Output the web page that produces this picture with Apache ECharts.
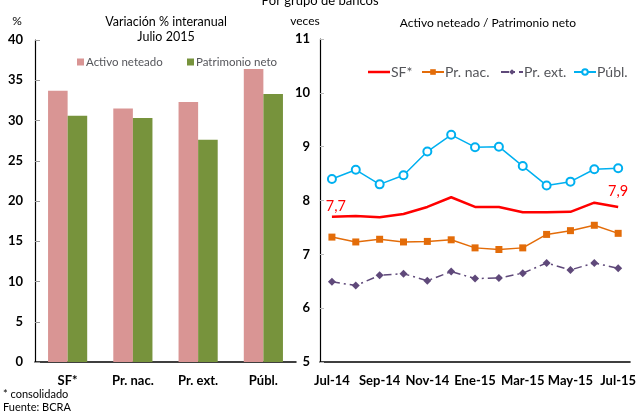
<!DOCTYPE html>
<html><head><meta charset="utf-8">
<script src="https://cdn.jsdelivr.net/npm/echarts@6/dist/echarts.min.js"></script>
<style>html,body{margin:0;padding:0;background:#fff}#c{width:639px;height:412px}</style>
</head><body><div id="c"></div>
<script>
const barCategories = ['SF*', 'Pr. nac.', 'Pr. ext.', 'Públ.'];
const activoNeteado = [33.7, 31.5, 32.3, 36.4];
const patrimonioNeto = [30.6, 30.3, 27.6, 33.3];

const months = ['Jul-14','Ago-14','Sep-14','Oct-14','Nov-14','Dic-14','Ene-15','Feb-15','Mar-15','Abr-15','May-15','Jun-15','Jul-15'];
const sf = [7.70, 7.71, 7.69, 7.75, 7.88, 8.06, 7.88, 7.88, 7.78, 7.78, 7.79, 7.96, 7.88];
const prNac = [7.32, 7.23, 7.28, 7.23, 7.24, 7.27, 7.12, 7.09, 7.12, 7.37, 7.44, 7.54, 7.39];
const prExt = [6.49, 6.42, 6.61, 6.64, 6.51, 6.68, 6.55, 6.56, 6.65, 6.84, 6.71, 6.84, 6.74];
const publ = [8.40, 8.57, 8.30, 8.47, 8.91, 9.22, 8.99, 9.00, 8.64, 8.28, 8.35, 8.58, 8.60];

const FONT = 'Lato';
const chart = echarts.init(document.getElementById('c'));
const txt = (x, y, text, extra) => Object.assign({type:'text', x, y, style:Object.assign({text, font:'13px '+FONT, fill:'#000'}, extra||{})});
const fmt = v => v.toFixed(1).replace('.', ',');
const lastIdx = sf.length - 1;

chart.setOption({
  animation: false,
  textStyle: {fontFamily: FONT},
  graphic: [
    txt(320, -6, 'Por grupo de bancos', {align:'center'}),
    txt(166, 15, 'Variación % interanual', {align:'center', font:'12.5px '+FONT}),
    txt(166, 30, 'Julio 2015', {align:'center', font:'12.5px '+FONT}),
    txt(17, 15, '%', {align:'center', font:'12px '+FONT}),
    txt(305, 15, 'veces', {align:'center', font:'12px '+FONT}),
    txt(488, 17, 'Activo neteado / Patrimonio neto', {align:'center', font:'12px '+FONT}),
    txt(3, 389, '* consolidado', {font:'11px '+FONT}),
    txt(3, 402, 'Fuente: BCRA', {font:'11px '+FONT})
  ],
  legend: [
    {
      data: ['Activo neteado'],
      left: 72, top: 51, icon: 'rect', itemWidth: 7, itemHeight: 7, itemGap: 0,
      textStyle: {fontSize: 11.5, fontFamily: FONT, padding: [0,0,0,-3]}
    },
    {
      data: ['Patrimonio neto'],
      left: 182, top: 51, icon: 'rect', itemWidth: 7, itemHeight: 7, itemGap: 0,
      textStyle: {fontSize: 11.5, fontFamily: FONT, padding: [0,0,0,-3]}
    },
    {
      data: ['SF*'],
      left: 363, top: 60, icon: 'rect', itemWidth: 22, itemHeight: 2.5,
      textStyle: {fontSize: 14, fontFamily: FONT, padding: [0,0,0,-4]}
    },
    {
      data: ['Pr. nac.'],
      left: 416, top: 60, itemWidth: 22, itemHeight: 7,
      textStyle: {fontSize: 14, fontFamily: FONT, padding: [0,0,0,-4]}
    },
    {
      data: ['Pr. ext.'],
      left: 495, top: 60, itemWidth: 22, itemHeight: 7,
      textStyle: {fontSize: 14, fontFamily: FONT, padding: [0,0,0,-4]}
    },
    {
      data: ['Públ.'],
      left: 568, top: 60, itemWidth: 22, itemHeight: 7,
      textStyle: {fontSize: 14, fontFamily: FONT, padding: [0,0,0,-4]}
    }
  ],
  grid: [
    {left: 35, right: 343, top: 40, bottom: 50},
    {left: 320, right: 6, top: 39, bottom: 50}
  ],
  xAxis: [
    {
      type: 'category', gridIndex: 0, data: barCategories,
      axisLine: {lineStyle: {color: '#000', width: 1.5}},
      axisTick: {show: false},
      axisLabel: {fontWeight: 'bold', fontSize: 13, color: '#000', margin: 12, fontFamily: FONT}
    },
    {
      type: 'category', gridIndex: 1, data: months,
      axisLine: {lineStyle: {color: '#000', width: 1.5}},
      axisTick: {inside: true, length: 4, interval: 1, lineStyle: {color: '#bbb'}},
      axisLabel: {interval: 1, fontWeight: 'bold', fontSize: 13, color: '#000', margin: 12, fontFamily: FONT}
    }
  ],
  yAxis: [
    {
      type: 'value', gridIndex: 0, min: 0, max: 40, interval: 5,
      axisLine: {show: true, lineStyle: {color: '#000', width: 1.2}},
      axisTick: {show: true, inside: true, length: 5, lineStyle: {color: '#999'}},
      splitLine: {show: false},
      axisLabel: {fontWeight: 'bold', fontSize: 13, color: '#000', margin: 12, fontFamily: FONT}
    },
    {
      type: 'value', gridIndex: 1, min: 5, max: 11, interval: 1,
      axisLine: {show: true, lineStyle: {color: '#000', width: 1.2}},
      axisTick: {show: true, inside: true, length: 4, lineStyle: {color: '#bbb'}},
      splitLine: {show: false},
      axisLabel: {fontWeight: 'bold', fontSize: 13, color: '#000', margin: 10, fontFamily: FONT}
    }
  ],
  series: [
    {name: 'Activo neteado', type: 'bar', xAxisIndex: 0, yAxisIndex: 0, data: activoNeteado,
     itemStyle: {color: '#D99594'}, barGap: '0%', barCategoryGap: '40%'},
    {name: 'Patrimonio neto', type: 'bar', xAxisIndex: 0, yAxisIndex: 0, data: patrimonioNeto,
     itemStyle: {color: '#77933C'}, barGap: '0%', barCategoryGap: '40%'},
    {name: 'SF*', type: 'line', xAxisIndex: 1, yAxisIndex: 1, data: sf,
     showSymbol: false, symbol: 'none', lineStyle: {color: '#FF0000', width: 2.5}, itemStyle: {color: '#FF0000'},
     markPoint: {
       symbol: 'circle', symbolSize: 0, silent: true,
       label: {show: true, position: 'top', distance: 3, color: '#FF0000', fontSize: 14.5, fontFamily: FONT},
       data: [
         {coord: [months[0], sf[0]], value: fmt(sf[0]), label: {offset: [4, 0]}},
         {coord: [months[lastIdx], sf[lastIdx]], value: fmt(sf[lastIdx]), label: {distance: 8}}
       ]
     }},
    {name: 'Pr. nac.', type: 'line', xAxisIndex: 1, yAxisIndex: 1, data: prNac,
     symbol: 'rect', symbolSize: 7, lineStyle: {color: '#E36C09', width: 1.5}, itemStyle: {color: '#E36C09'}},
    {name: 'Pr. ext.', type: 'line', xAxisIndex: 1, yAxisIndex: 1, data: prExt,
     symbol: 'diamond', symbolSize: 8, lineStyle: {color: '#5F497A', width: 1.5, type: [8, 4, 2, 4]}, itemStyle: {color: '#5F497A'}},
    {name: 'Públ.', type: 'line', xAxisIndex: 1, yAxisIndex: 1, data: publ,
     symbol: 'emptyCircle', symbolSize: 8, lineStyle: {color: '#00B0F0', width: 1.5},
     itemStyle: {color: '#00B0F0', borderColor: '#00B0F0', borderWidth: 1.5}}
  ]
});
</script>
</body></html>
